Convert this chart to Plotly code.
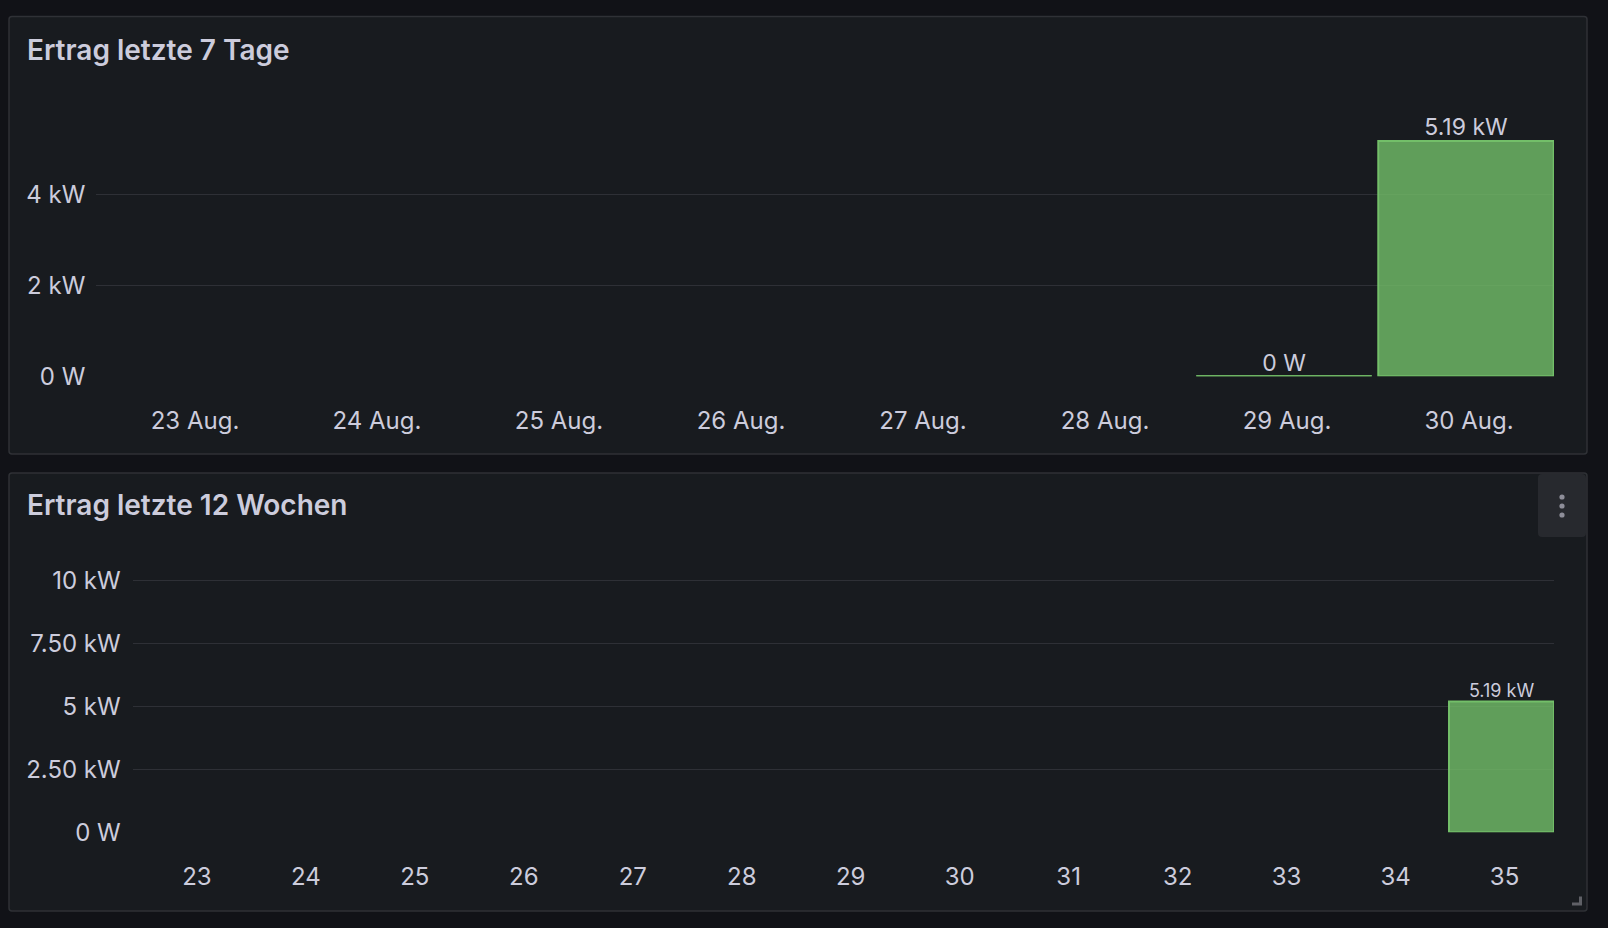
import plotly.graph_objects as go

W, H = 1608, 928

# ---------------- data ----------------
days = ["23 Aug.", "24 Aug.", "25 Aug.", "26 Aug.", "27 Aug.", "28 Aug.", "29 Aug.", "30 Aug."]
day_values = [None, None, None, None, None, None, 0.0, 5.19]  # kW

weeks = ["23", "24", "25", "26", "27", "28", "29", "30", "31", "32", "33", "34", "35"]
week_values = [None, None, None, None, None, None, None, None, None, None, None, None, 5.19]  # kW

top_tickvals = [0, 2, 4]
top_ticktext = ["0 W", "2 kW", "4 kW"]
bot_tickvals = [0, 2.5, 5, 7.5, 10]
bot_ticktext = ["0 W", "2.50 kW", "5 kW", "7.50 kW", "10 kW"]

titles = ["Ertrag letzte 7 Tage", "Ertrag letzte 12 Wochen"]

# ---------------- style ----------------
CANVAS = "#111217"
PANEL = "#181b1f"
BORDER = "#2f3136"
TEXT = "#ccccdc"
GRID = "rgba(204,204,220,0.12)"
FILL = "rgba(115,191,105,0.8)"
LINE = "#73bf69"
FONT = "Inter"


def fmt(v):
    if v is None:
        return ""
    if v == 0:
        return "0 W"
    return f"{v:.2f} kW"


def px_x(x):
    return x / W


def px_y(y):
    return 1 - y / H


fig = go.Figure()

# bars
fig.add_trace(go.Bar(x=days, y=day_values, marker=dict(color=FILL, line=dict(color=LINE, width=2)),
                     xaxis="x", yaxis="y", hoverinfo="skip"))
fig.add_trace(go.Scatter(x=days, y=day_values, mode="text", text=[fmt(v) for v in day_values],
                         textposition="top center", textfont=dict(family=FONT, size=23, color=TEXT),
                         xaxis="x", yaxis="y", hoverinfo="skip", cliponaxis=False))

fig.add_trace(go.Bar(x=weeks, y=week_values, marker=dict(color=FILL, line=dict(color=LINE, width=2)),
                     xaxis="x2", yaxis="y2", hoverinfo="skip"))
fig.add_trace(go.Scatter(x=weeks, y=week_values, mode="text", text=[fmt(v) for v in week_values],
                         textposition="top center", textfont=dict(family=FONT, size=18, color=TEXT),
                         xaxis="x2", yaxis="y2", hoverinfo="skip", cliponaxis=False))

shapes = []


def panel_path(x0, y0, x1, y1, r):
    X = lambda v: px_x(v)
    Y = lambda v: px_y(v)
    pts = [
        f"M {X(x0+r)},{Y(y0)}", f"L {X(x1-r)},{Y(y0)}", f"Q {X(x1)},{Y(y0)} {X(x1)},{Y(y0+r)}",
        f"L {X(x1)},{Y(y1-r)}", f"Q {X(x1)},{Y(y1)} {X(x1-r)},{Y(y1)}",
        f"L {X(x0+r)},{Y(y1)}", f"Q {X(x0)},{Y(y1)} {X(x0)},{Y(y1-r)}",
        f"L {X(x0)},{Y(y0+r)}", f"Q {X(x0)},{Y(y0)} {X(x0+r)},{Y(y0)}", "Z",
    ]
    return " ".join(pts)


for (y0, y1) in [(16.5, 454), (473, 911)]:
    shapes.append(dict(type="path", xref="paper", yref="paper", path=panel_path(9, y0, 1587, y1, 3),
                       fillcolor=PANEL, line=dict(color=BORDER, width=1.5), layer="below"))

# menu box in lower panel
shapes.append(dict(type="path", xref="paper", yref="paper",
                   path=panel_path(1538, 474, 1586, 537, 4),
                   fillcolor="#27292e", line=dict(width=0), layer="above"))
for cy in [497, 506, 515]:
    shapes.append(dict(type="circle", xref="paper", yref="paper",
                       x0=px_x(1562 - 2.6), x1=px_x(1562 + 2.6), y0=px_y(cy - 2.6), y1=px_y(cy + 2.6),
                       fillcolor="#8e8e99", line=dict(width=0), layer="above"))
# resize handle
shapes.append(dict(type="path", xref="paper", yref="paper",
                   path=(f"M {px_x(1582)},{px_y(896.5)} L {px_x(1582)},{px_y(905.5)} L {px_x(1572)},{px_y(905.5)} "
                         f"L {px_x(1572)},{px_y(902.5)} L {px_x(1579)},{px_y(902.5)} L {px_x(1579)},{px_y(896.5)} Z"),
                   fillcolor="#5f6066", line=dict(width=0), layer="above"))

# zero-height bars shown as a line
BARGAP = 0.036
half = (1 - BARGAP) / 2
for i, v in enumerate(day_values):
    if v == 0:
        shapes.append(dict(type="line", xref="x", yref="y", x0=i - half, x1=i + half, y0=v, y1=v,
                           line=dict(color=LINE, width=2), layer="above"))
for i, v in enumerate(week_values):
    if v == 0:
        shapes.append(dict(type="line", xref="x2", yref="y2", x0=i - half, x1=i + half, y0=v, y1=v,
                           line=dict(color=LINE, width=2), layer="above"))

annotations = []
for t, yc in zip(titles, [49.5, 505.5]):
    annotations.append(dict(text=t, xref="paper", yref="paper", x=px_x(25), y=px_y(yc),
                            xanchor="left", yanchor="middle", showarrow=False,
                            font=dict(family=FONT, size=28, color=TEXT, weight=600)))

# axis geometry
top_y0, top_ppk = 376.3, 45.33
top_range = 6.1
top_top = top_y0 - top_range * top_ppk
bot_y0, bot_ppk = 832.3, 25.2
bot_range = 10.4
bot_top = bot_y0 - bot_range * bot_ppk

top_x0, top_x1 = 96.3, 1554.0
top_step, top_first = 182.0, 192.0
top_r0 = -(top_first - top_x0) / top_step
top_r1 = top_r0 + (top_x1 - top_x0) / top_step

bot_x0, bot_x1 = 132.7, 1554.0
bot_step, bot_first = 108.97, 193.9
bot_r0 = -(bot_first - bot_x0) / bot_step
bot_r1 = bot_r0 + (bot_x1 - bot_x0) / bot_step

axis_font = dict(family=FONT, size=24, color=TEXT)

fig.update_layout(
    width=W, height=H,
    autosize=False,
    margin=dict(l=0, r=0, t=0, b=0, pad=0),
    paper_bgcolor=CANVAS,
    plot_bgcolor="rgba(0,0,0,0)",
    showlegend=False,
    bargap=BARGAP,
    shapes=shapes,
    annotations=annotations,
    xaxis=dict(domain=[px_x(top_x0), px_x(top_x1)], anchor="y", type="category", showgrid=False,
               range=[top_r0, top_r1], automargin=False,
               showline=False, zeroline=False, tickfont=axis_font, ticks="", ticklabelstandoff=28,
               ticklabelshift=3, fixedrange=True),
    yaxis=dict(domain=[px_y(top_y0), px_y(top_top)], anchor="x", range=[0, top_range], automargin=False,
               tickvals=top_tickvals, ticktext=top_ticktext, gridcolor=GRID, gridwidth=1,
               zeroline=False, showline=False, tickfont=axis_font, ticks="", ticklabelstandoff=10,
               fixedrange=True),
    xaxis2=dict(domain=[px_x(bot_x0), px_x(bot_x1)], anchor="y2", type="category", showgrid=False,
                range=[bot_r0, bot_r1], automargin=False,
                showline=False, zeroline=False, tickfont=axis_font, ticks="", ticklabelstandoff=28,
                ticklabelshift=3, fixedrange=True),
    yaxis2=dict(domain=[px_y(bot_y0), px_y(bot_top)], anchor="x2", range=[0, bot_range], automargin=False,
                tickvals=bot_tickvals, ticktext=bot_ticktext, gridcolor=GRID, gridwidth=1,
                zeroline=False, showline=False, tickfont=axis_font, ticks="", ticklabelstandoff=11,
                fixedrange=True),
)

fig.write_html("out.html", config={"displayModeBar": False})
